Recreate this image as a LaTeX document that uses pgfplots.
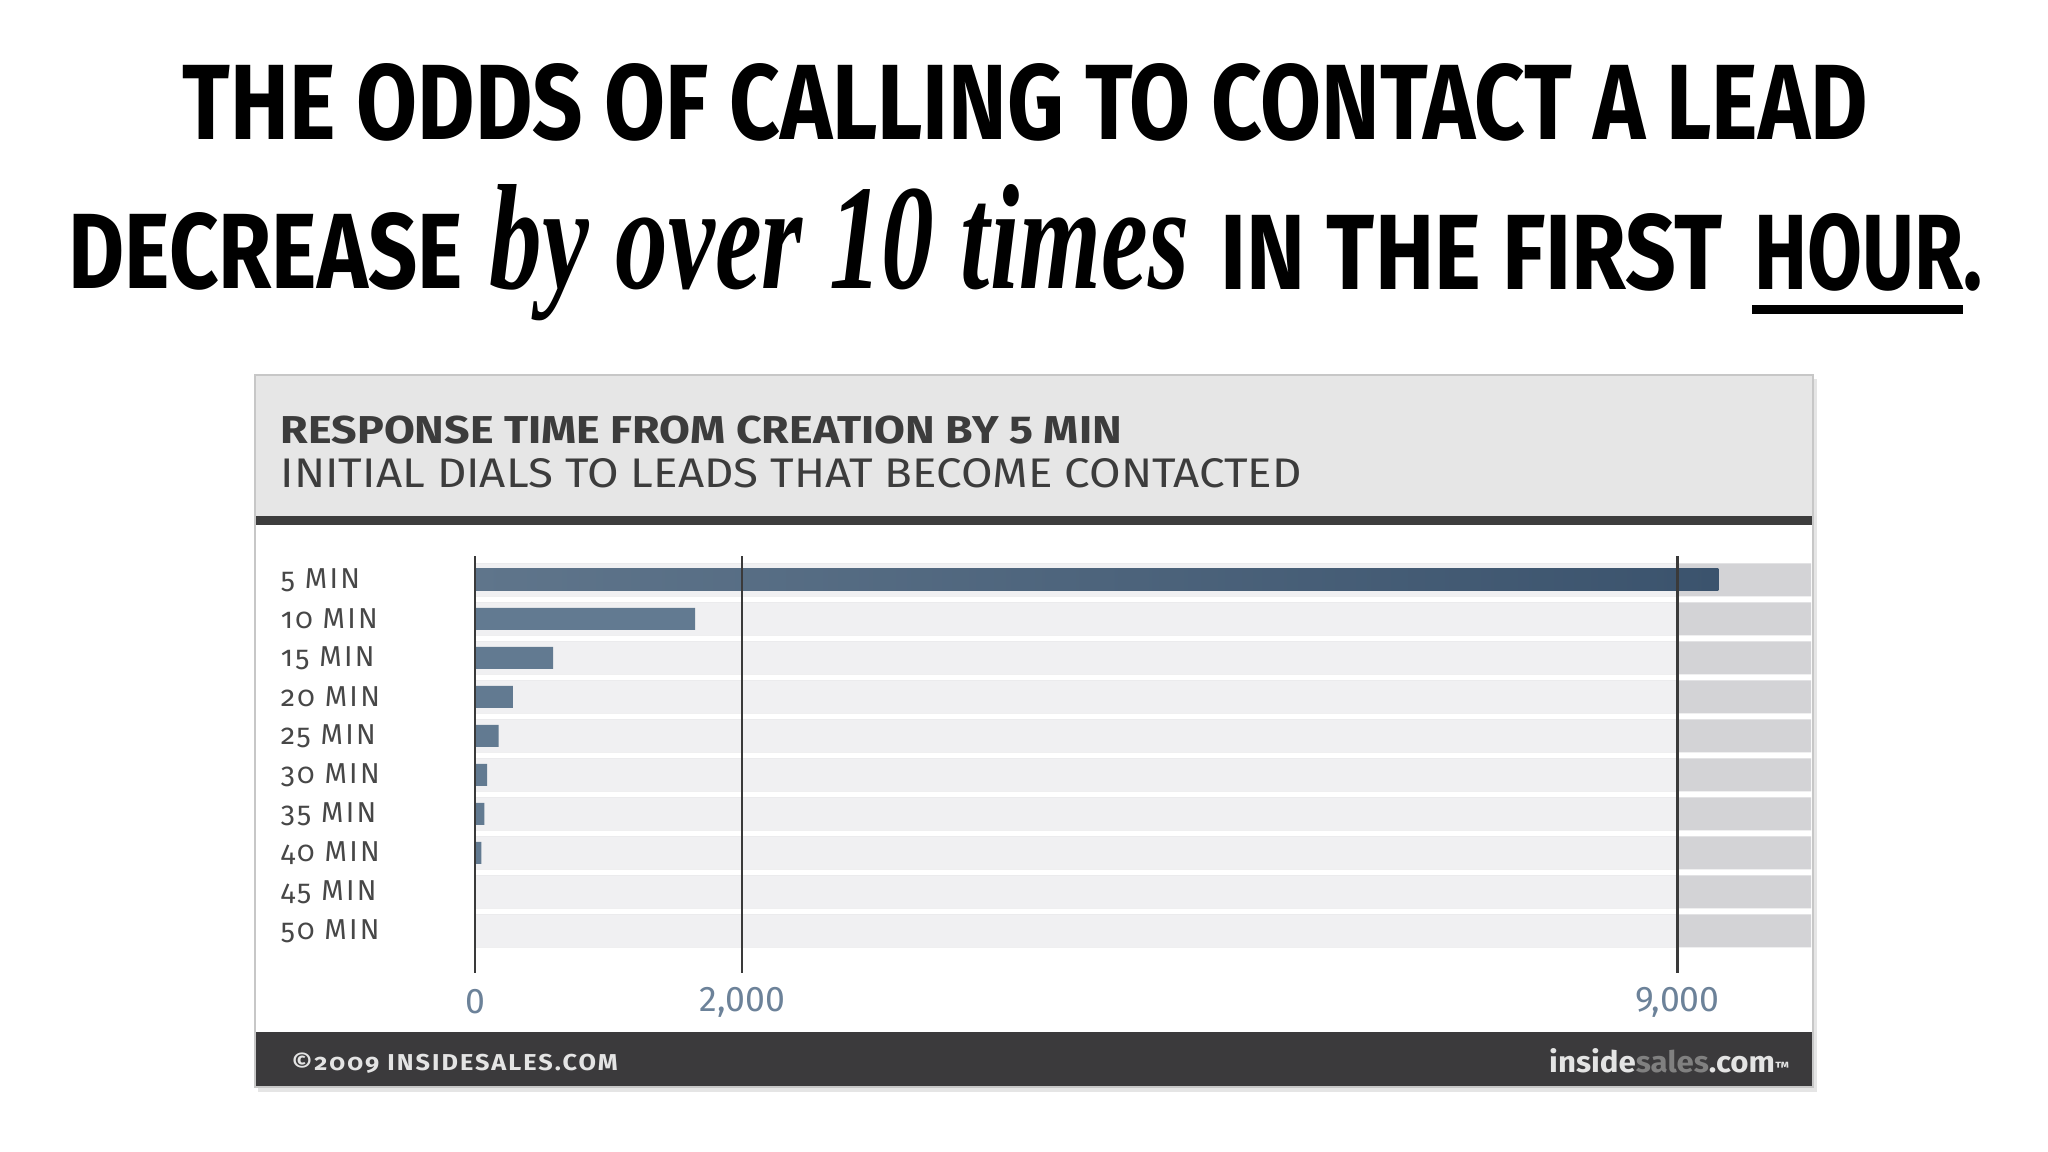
\documentclass[border=0pt]{standalone}
\usepackage{fontspec}
\setmainfont{Fira Sans}
\newfontfamily\lbl{Fira Sans}[Numbers=OldStyle,LetterSpace=8]
\newfontfamily\scr{Liberation Serif}
\usepackage{graphicx}
\usepackage{pgfplots}
\pgfplotsset{compat=1.18}
\definecolor{hdr}{HTML}{E6E6E6}
\definecolor{strip}{HTML}{3D3D3D}
\definecolor{foot}{HTML}{3B3A3C}
\definecolor{bandL}{HTML}{F0F0F2}
\definecolor{bandD}{HTML}{D3D3D6}
\definecolor{barc}{HTML}{627A91}
\definecolor{barA}{HTML}{5F758B}
\definecolor{barB}{HTML}{3B536D}
\definecolor{gridc}{HTML}{3A3A3A}
\definecolor{tickc}{HTML}{6C8299}
\definecolor{lblc}{HTML}{474747}
\definecolor{htxt}{HTML}{3C3C3C}
\definecolor{footc}{HTML}{E4E4E4}
\begin{document}
\begin{tikzpicture}[x=0.25pt,y=-0.25pt]
\path[use as bounding box] (0,0) rectangle (2048,1152);
\fill[white] (0,0) rectangle (2048,1152);
% big title
\node[anchor=base west,inner sep=0] at (182,140) {\resizebox{421.25pt}{19pt}{\bfseries THE ODDS OF CALLING TO CONTACT A LEAD}};
\node[anchor=base west,inner sep=0] at (68,289) {\resizebox{98.5pt}{19pt}{\bfseries DECREASE}};
\node[anchor=base west,inner sep=0] at (489,289) {\resizebox{174.75pt}{26pt}{\scr\bfseries\itshape by over 10 times}};
\node[anchor=base west,inner sep=0] at (1220,290) {\resizebox{125.5pt}{19pt}{\bfseries IN THE FIRST}};
\node[anchor=base west,inner sep=0] at (1754,290) {\resizebox{57pt}{19pt}{\bfseries HOUR.}};
\fill[black] (1752,305) rectangle (1963,314);
% panel
\fill[black!10] (258,379) rectangle (1817,1092);
\fill[white] (255,375) rectangle (1813,1087);
\fill[hdr] (255,375) rectangle (1813,516);
\fill[strip] (255,516) rectangle (1813,525);
\fill[foot] (255,1032) rectangle (1813,1087);
\draw[black!22,line width=0.4pt] (255,375) rectangle (1813,1087);
\node[anchor=base west,inner sep=0,text=htxt] at (280,444) {\resizebox{210.25pt}{6.9pt}{\bfseries RESPONSE TIME FROM CREATION BY 5 MIN}};
\node[anchor=base west,inner sep=0,text=htxt] at (280,488) {\resizebox{255.25pt}{7.25pt}{INITIAL DIALS TO LEADS THAT BECOME CONTACTED}};
\node[anchor=base west,inner sep=0,text=footc] at (291,1071) {\resizebox{81.5pt}{4.4pt}{\lbl\bfseries ©2009 INSIDESALES.COM}};
\node[anchor=base east,inner sep=0] at (1790,1073) {\resizebox{60pt}{6pt}{\bfseries\color{footc}inside\color{black!50}sales\color{footc}.com{\fontsize{5pt}{5pt}\selectfont ™}}};
\begin{axis}[
  at={(118.75pt,-243.25pt)}, anchor=south west,
  scale only axis, width=334pt, height=104.25pt,
  xmin=0, xmax=10000, ymin=-1.077, ymax=9.615,
  scaled x ticks=false,
  axis on top,
  axis line style={draw=none},
  major tick length=0pt,
  xtick={0,2000,9000},
  xticklabels={0,{2,000},{9,000}},
  ytick={0,1,2,3,4,5,6,7,8,9},
  yticklabels={50 MIN,45 MIN,40 MIN,35 MIN,30 MIN,25 MIN,20 MIN,15 MIN,10 MIN,5 MIN},
  xmajorgrids,
  grid style={draw=gridc,line width=0.55pt},
  /pgf/number format/assume math mode=true,
  xticklabel style={font=\fontsize{8.9pt}{10pt}\selectfont,text=tickc,anchor=center,yshift=-7.25pt,inner sep=0pt},
  yticklabel style={font=\lbl\fontsize{7.2pt}{8pt}\selectfont,text=lblc,anchor=west,xshift=-48.75pt,inner sep=0pt},
]
\addplot[xbar,bar shift=0pt,bar width=8.25pt,fill=bandD,draw=none,forget plot] coordinates {
(10000,0) (10000,1) (10000,2) (10000,3) (10000,4) (10000,5) (10000,6) (10000,7) (10000,8) (10000,9)};
\addplot[xbar,bar shift=0pt,bar width=8.25pt,fill=bandL,draw=none,forget plot] coordinates {
(9000,0) (9000,1) (9000,2) (9000,3) (9000,4) (9000,5) (9000,6) (9000,7) (9000,8) (9000,9)};
\addplot[xbar,bar shift=0pt,bar width=5.5pt,fill=barc,draw=none] coordinates {
(0,0) (0,1) (47,2) (70,3) (90,4) (177,5) (284,6) (585,7) (1647,8)};
\addplot[xbar,bar shift=0pt,bar width=5.5pt,draw=none,left color=barA,right color=barB] coordinates {(9306,9)};
\end{axis}
\end{tikzpicture}
\end{document}
